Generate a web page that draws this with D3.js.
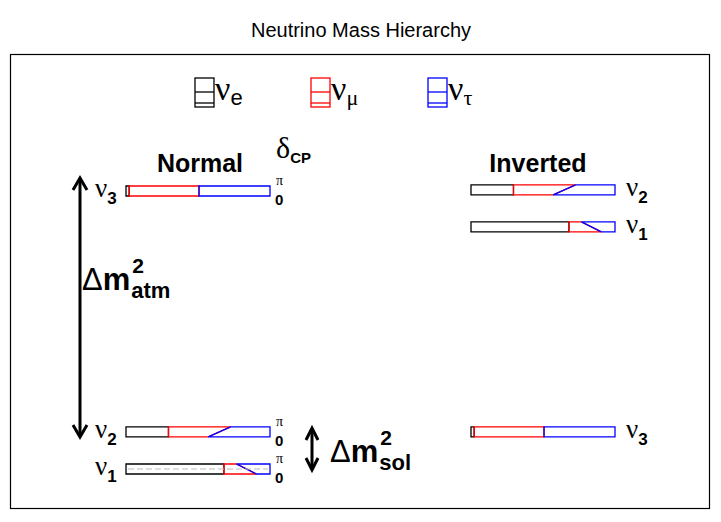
<!DOCTYPE html>
<html><head><meta charset="utf-8">
<script src="https://cdn.jsdelivr.net/npm/d3@7"></script>
<style>body{margin:0;background:#fff} svg{display:block}</style>
</head><body><svg id="c" width="721" height="522"></svg>
<script>
// ---- data ----
const stateNames = ["1", "2", "3"];                 // ν1, ν2, ν3
const normalLevel = [0, 1, 7.5];                     // schematic mass² levels, normal ordering
const invertedLevel = [6.53, 7.53, 1];               // schematic mass² levels, inverted ordering
const eFrac = [0.68, 0.295, 0.022];                  // |U_ei|²
const emuAtZero = [0.905, 0.571, 0.507];             // |U_ei|²+|U_μi|² at δCP = 0
const emuAtPi = [0.767, 0.726, 0.507];               // |U_ei|²+|U_μi|² at δCP = π
const flavourNames = ["e", "μ", "τ"];
const flavourColors = ["#000000", "#ff0000", "#0000ff"];
const deltaTicks = ["π", "0"];

const svg = d3.select("#c");
const greek = "'Liberation Serif','DejaVu Serif',serif";
const sans = "'Liberation Sans',Arial,Helvetica,sans-serif";

// frame + title
svg.append("rect").attr("x", 10.5).attr("y", 54.5).attr("width", 699).attr("height", 454)
  .attr("fill", "none").attr("stroke", "#000").attr("stroke-width", 1.2);
svg.append("text").attr("x", 361).attr("y", 37).attr("text-anchor", "middle")
  .attr("font-family", sans).attr("font-size", 20).text("Neutrino Mass Hierarchy");

// scales
const y = d3.scaleLinear().domain([0, 7.5]).range([469, 191]);
const xN = d3.scaleLinear().domain([0, 1]).range([126, 270]);
const xI = d3.scaleLinear().domain([0, 1]).range([471, 615]);
const barH = 10;

function drawBar(x, level, i) {
  const top = y(level) - barH / 2, bot = y(level) + barH / 2;
  const polys = [
    [[x(0), top], [x(eFrac[i]), top], [x(eFrac[i]), bot], [x(0), bot]],
    [[x(eFrac[i]), top], [x(emuAtPi[i]), top], [x(emuAtZero[i]), bot], [x(eFrac[i]), bot]],
    [[x(emuAtPi[i]), top], [x(1), top], [x(1), bot], [x(emuAtZero[i]), bot]]
  ];
  const g = svg.append("g");
  g.selectAll("polygon").data(polys).join("polygon")
    .attr("points", d => d.map(p => p.join(",")).join(" "))
    .attr("fill", "none")
    .attr("stroke", (d, k) => flavourColors[k])
    .attr("stroke-width", 1.3)
    .attr("stroke-linejoin", "miter");
  return {top, bot};
}

function nuLabel(x, yBase, sub) {
  const t = svg.append("text").attr("x", x).attr("y", yBase);
  t.append("tspan").attr("font-family", greek).attr("font-size", 27).text("ν");
  t.append("tspan").attr("font-family", sans).attr("font-weight", "bold")
    .attr("font-size", 17).attr("dy", 7).text(sub);
}

// Normal hierarchy
stateNames.forEach((s, i) => {
  const b = drawBar(xN, normalLevel[i], i);
  nuLabel(95, b.bot + 1, s);
  svg.append("text").attr("x", 276).attr("y", b.top - 1).attr("font-family", greek)
    .attr("font-size", 14).text(deltaTicks[0]);
  svg.append("text").attr("x", 275).attr("y", b.bot + 9).attr("font-family", sans)
    .attr("font-weight", "bold").attr("font-size", 15).text(deltaTicks[1]);
  if (i === 0) {
    svg.append("line").attr("x1", xN(0) + 2).attr("x2", xN(1) - 2)
      .attr("y1", y(normalLevel[i])).attr("y2", y(normalLevel[i]))
      .attr("stroke", "#bbb").attr("stroke-width", 1).attr("stroke-dasharray", "6,3");
  }
});
// Inverted hierarchy
stateNames.forEach((s, i) => {
  const b = drawBar(xI, invertedLevel[i], i);
  nuLabel(626, b.bot + 1, s);
});

// headings
svg.append("text").attr("x", 200).attr("y", 172).attr("text-anchor", "middle")
  .attr("font-family", sans).attr("font-weight", "bold").attr("font-size", 25).text("Normal");
svg.append("text").attr("x", 538).attr("y", 172).attr("text-anchor", "middle")
  .attr("font-family", sans).attr("font-weight", "bold").attr("font-size", 25).text("Inverted");
const dcp = svg.append("text").attr("x", 276).attr("y", 158);
dcp.append("tspan").attr("font-family", greek).attr("font-size", 30).text("δ");
dcp.append("tspan").attr("font-family", sans).attr("font-weight", "bold").attr("font-size", 15)
  .attr("dy", 5).text("CP");

// arrows
function dblArrow(x, y1, y2, w) {
  const g = svg.append("g").attr("stroke", "#000").attr("stroke-width", 3).attr("fill", "none")
    .attr("stroke-linecap", "butt");
  g.append("line").attr("x1", x).attr("x2", x).attr("y1", y1 + 1).attr("y2", y2 - 1);
  g.append("polyline").attr("points", `${x - w},${y1 + 12} ${x},${y1} ${x + w},${y1 + 12}`);
  g.append("polyline").attr("points", `${x - w},${y2 - 12} ${x},${y2} ${x + w},${y2 - 12}`);
}
dblArrow(80, 178, 437, 7);
dblArrow(312, 428, 470, 6);

function dmLabel(x, yBase, sub) {
  const t = svg.append("text").attr("x", x).attr("y", yBase).attr("font-family", sans);
  t.append("tspan").attr("font-size", 31).text("Δ");
  t.append("tspan").attr("font-size", 31).attr("font-weight", "bold").text("m");
  const w = t.node().getComputedTextLength();
  svg.append("text").attr("x", x + w + 2).attr("y", yBase - 17).attr("font-family", sans)
    .attr("font-weight", "bold").attr("font-size", 21).text("2");
  svg.append("text").attr("x", x + w + 1).attr("y", yBase + 8).attr("font-family", sans)
    .attr("font-weight", "bold").attr("font-size", 22).text(sub);
}
dmLabel(82, 290, "atm");
dmLabel(330, 462, "sol");

// legend
const legX = [195, 311, 428];
flavourNames.forEach((f, k) => {
  const g = svg.append("g").attr("stroke", flavourColors[k]).attr("stroke-width", 1.3).attr("fill", "none");
  g.append("rect").attr("x", legX[k]).attr("y", 78).attr("width", 19).attr("height", 29);
  g.append("line").attr("x1", legX[k]).attr("x2", legX[k] + 19).attr("y1", 92).attr("y2", 92);
  g.append("line").attr("x1", legX[k]).attr("x2", legX[k] + 19).attr("y1", 103).attr("y2", 103);
  const t = svg.append("text").attr("x", legX[k] + 20).attr("y", 100);
  t.append("tspan").attr("font-family", greek).attr("font-size", 34).text("ν");
  t.append("tspan").attr("font-family", f === "e" ? sans : greek).attr("font-size", 22)
    .attr("dy", 5).text(f);
});
</script></body></html>
